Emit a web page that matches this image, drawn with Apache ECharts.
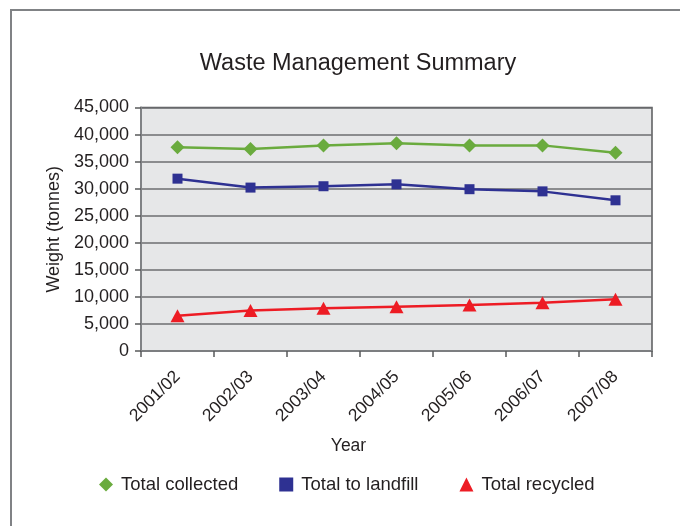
<!DOCTYPE html>
<html>
<head>
<meta charset="utf-8">
<script src="https://cdn.jsdelivr.net/npm/echarts@6/dist/echarts.min.js"></script>
<style>
  html, body { margin: 0; padding: 0; background: #fff; }
  #chart { width: 680px; height: 526px; }
</style>
</head>
<body>
<div id="chart"></div>
<script>
var years = ['2001/02', '2002/03', '2003/04', '2004/05', '2005/06', '2006/07', '2007/08'];
var collected = [37650, 37350, 38000, 38400, 38000, 38000, 36650];
var landfill = [31850, 30200, 30450, 30800, 29900, 29500, 27850];
var recycled = [6500, 7500, 7900, 8200, 8500, 8900, 9550];

var textColor = '#231f20';
var gridColor = '#6d6e71';

var option = {
    backgroundColor: '#fff',
    animation: false,
    textStyle: { fontFamily: 'Liberation Sans, Arial, sans-serif', color: textColor },
    title: {
        text: 'Waste Management Summary',
        left: 353,
        top: 47,
        textAlign: 'center',
        textStyle: { fontSize: 23.5, fontWeight: 'normal', color: textColor }
    },
    graphic: [
        {
            type: 'rect',
            shape: { x: 11, y: 10, width: 700, height: 560 },
            style: { fill: 'none', stroke: '#808285', lineWidth: 2 },
            silent: true
        }
    ],
    legend: {
        left: 94,
        top: 470,
        itemGap: 41,
        itemWidth: 14,
        itemHeight: 14,
        textStyle: { fontSize: 18.5, color: textColor, padding: [0, 0, 0, 3] },
        data: [
            { name: 'Total collected', icon: 'diamond' },
            { name: 'Total to landfill', icon: 'rect' },
            { name: 'Total recycled', icon: 'triangle' }
        ]
    },
    grid: {
        left: 141,
        right: 28,
        top: 107.5,
        bottom: 175,
        show: true,
        backgroundColor: '#e6e7e8',
        borderColor: '#58595b',
        borderWidth: 1.5
    },
    xAxis: {
        type: 'category',
        data: years,
        boundaryGap: true,
        name: 'Year',
        nameLocation: 'middle',
        nameGap: 86,
        nameTextStyle: { fontSize: 17.5, color: textColor, padding: [0, 96, 0, 0] },
        axisLine: { lineStyle: { color: '#808285', width: 1.5 } },
        axisTick: { show: true, length: 6, inside: false, lineStyle: { color: '#58595b', width: 1.5 } },
        axisLabel: { rotate: 45, fontSize: 17.5, color: textColor, margin: 23 },
        splitLine: { show: false }
    },
    yAxis: {
        type: 'value',
        min: 0,
        max: 45000,
        interval: 5000,
        name: 'Weight (tonnes)',
        nameLocation: 'middle',
        nameGap: 70,
        nameTextStyle: { fontSize: 18, color: textColor },
        axisLine: { show: true, lineStyle: { color: '#808285', width: 2 } },
        axisTick: { show: true, length: 6, inside: false, lineStyle: { color: '#58595b', width: 1.5 } },
        axisLabel: {
            fontSize: 18,
            color: textColor,
            margin: 12,
            formatter: function (v) {
                return v.toString().replace(/\B(?=(\d{3})+(?!\d))/g, ',');
            }
        },
        splitLine: { show: true, lineStyle: { color: gridColor, width: 1.5 } }
    },
    series: [
        {
            name: 'Total collected',
            type: 'line',
            data: collected,
            symbol: 'diamond',
            symbolSize: 14,
            lineStyle: { color: '#6aab3e', width: 2.5 },
            itemStyle: { color: '#6aab3e' }
        },
        {
            name: 'Total to landfill',
            type: 'line',
            data: landfill,
            symbol: 'rect',
            symbolSize: 10,
            lineStyle: { color: '#2e3192', width: 2.5 },
            itemStyle: { color: '#2e3192' }
        },
        {
            name: 'Total recycled',
            type: 'line',
            data: recycled,
            symbol: 'triangle',
            symbolSize: [14, 13],
            lineStyle: { color: '#ed1c24', width: 2.5 },
            itemStyle: { color: '#ed1c24' }
        }
    ]
};

var myChart = echarts.init(document.getElementById('chart'));
myChart.setOption(option);
</script>
</body>
</html>
